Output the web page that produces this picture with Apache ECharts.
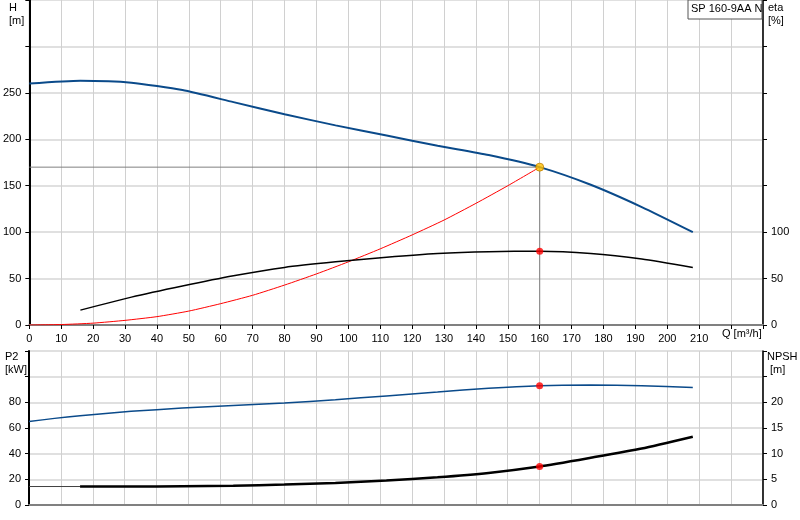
<!DOCTYPE html><html><head><meta charset="utf-8"><script src="https://cdn.jsdelivr.net/npm/echarts@6/dist/echarts.min.js"></script></head><body style="margin:0"><div id="c" style="width:800px;height:520px"></div><script>
const qH=[0,16,32,48,64,80,96,112,128,144,160,176,192,208];
const H=[260,263,261,253,240,227,215,204,193,183,170,151,127,100];
const qE=[16,32,48,64,80,96,112,128,144,160,176,192,208];
const eta=[16,30,42,53,62,68,73,77,79,79.5,77,71,62];
const qS=[0,10,20,30,40,50,60,70,80,90,100,110,120,130,140,150,160];
const sys=[0,0.5,2,5,9,15,23,32,43,55,68,82,97,113,131,150,170];
const P2=[65,67.5,69.5,73,75.5,77.5,79.5,82,85,88,91,93,93.5,93,91.5];
const qP=[0,8,16,32,48,64,80,96,112,128,144,160,176,192,208];
const qN=[16,32,48,64,80,96,112,128,144,160,176,192,208];
const NPSH=[3.6,3.6,3.65,3.75,4,4.3,4.75,5.4,6.25,7.5,9.2,11,13.3];
const dutyQ=160,dutyH=170,dutyEta=79.5,dutyP2=93,dutyN=7.5;
const gl={show:true,lineStyle:{color:'#d0d0d0'}};
const lab={color:'#000',fontSize:11,fontFamily:'Arial'};
const xa=(g,show)=>({type:'value',gridIndex:g,min:0,max:230,interval:10,splitLine:gl,axisLine:{show:true,onZero:false,lineStyle:{color:'#808080',width:2}},axisTick:{show:show,length:4,lineStyle:{color:'#000'}},axisLabel:{show:show,...lab,formatter:v=>v<=210?v:''}});
const ya=(g,max,int,lmax,pos)=>({type:'value',gridIndex:g,position:pos,min:0,max:max,interval:int,splitLine:pos=='left'?{show:true,lineStyle:{color:'#e0e0e0',width:2}}:{show:false},axisLine:{show:true,lineStyle:{color:'#000',width:pos=='left'?2:1.5}},axisTick:{show:true,length:4,inside:false,lineStyle:{color:'#000'}},axisLabel:{...lab,formatter:v=>v<=lmax?v:''}});
const Z=(a,b)=>a.map((v,i)=>[v,b[i]]);
const c=echarts.init(document.getElementById('c'));
c.setOption({animation:false,
grid:[{left:29,top:0,width:734,height:325,show:true,borderColor:'#808080',borderWidth:1},{left:29,top:351,width:734,height:154,show:true,borderColor:'#808080',borderWidth:1}],
xAxis:[xa(0,true),xa(1,false)],
yAxis:[ya(0,350,50,250,'left'),ya(0,350,50,100,'right'),ya(1,120,20,80,'left'),ya(1,30,5,20,'right')],
series:[
{type:'line',data:Z(qS,sys),xAxisIndex:0,yAxisIndex:0,symbol:'none',smooth:0.2,lineStyle:{color:'#ff0000',width:1},z:2},
{type:'line',data:[[0,dutyH],[dutyQ,dutyH],[dutyQ,0]],xAxisIndex:0,yAxisIndex:0,symbol:'none',lineStyle:{color:'#808080',width:1},z:1},
{type:'line',data:Z(qH,H),xAxisIndex:0,yAxisIndex:0,symbol:'none',smooth:0.2,lineStyle:{color:'#0a4a8a',width:2},z:3},
{type:'line',data:Z(qE,eta),xAxisIndex:0,yAxisIndex:1,symbol:'none',smooth:0.2,lineStyle:{color:'#000',width:1.5},z:3},
{type:'scatter',data:[[dutyQ,dutyH]],xAxisIndex:0,yAxisIndex:0,symbolSize:8,itemStyle:{color:'#ffc000',borderColor:'#c08000',borderWidth:1},z:5},
{type:'scatter',data:[[dutyQ,dutyEta]],xAxisIndex:0,yAxisIndex:1,symbolSize:7,itemStyle:{color:'#ff0000'},z:5},
{type:'line',data:Z(qP,P2),xAxisIndex:1,yAxisIndex:2,symbol:'none',smooth:0.2,lineStyle:{color:'#0a4a8a',width:1.5},z:3},
{type:'line',data:[[0,NPSH[0]],[qN[0],NPSH[0]]],xAxisIndex:1,yAxisIndex:3,symbol:'none',lineStyle:{color:'#404040',width:1},z:2},
{type:'line',data:Z(qN,NPSH),xAxisIndex:1,yAxisIndex:3,symbol:'none',smooth:0.2,lineStyle:{color:'#000',width:2.5},z:3},
{type:'scatter',data:[[dutyQ,dutyP2]],xAxisIndex:1,yAxisIndex:2,symbolSize:7,itemStyle:{color:'#ff0000'},z:5},
{type:'scatter',data:[[dutyQ,dutyN]],xAxisIndex:1,yAxisIndex:3,symbolSize:7,itemStyle:{color:'#ff0000'},z:5}
],
graphic:[
{type:'text',left:9,top:1,style:{text:'H\n[m]',fill:'#000',font:'11px Arial',lineHeight:13,align:'center'}},
{type:'text',left:768,top:1,style:{text:'eta\n[%]',fill:'#000',font:'11px Arial',lineHeight:13}},
{type:'text',left:5,top:350,style:{text:'P2\n[kW]',fill:'#000',font:'11px Arial',lineHeight:13,align:'center'}},
{type:'text',left:767,top:350,style:{text:'NPSH\n [m]',fill:'#000',font:'11px Arial',lineHeight:13}},
{type:'text',left:722,top:328,style:{text:'Q [m³/h]',fill:'#000',font:'11px Arial'}},
{type:'rect',shape:{x:688,y:0,width:74,height:19},style:{fill:'#fff',stroke:'#555',lineWidth:1},z:10},
{type:'text',left:691,top:3,z:11,style:{text:'SP 160-9AA N',fill:'#000',font:'11px Arial'}}
]});
</script></body></html>
